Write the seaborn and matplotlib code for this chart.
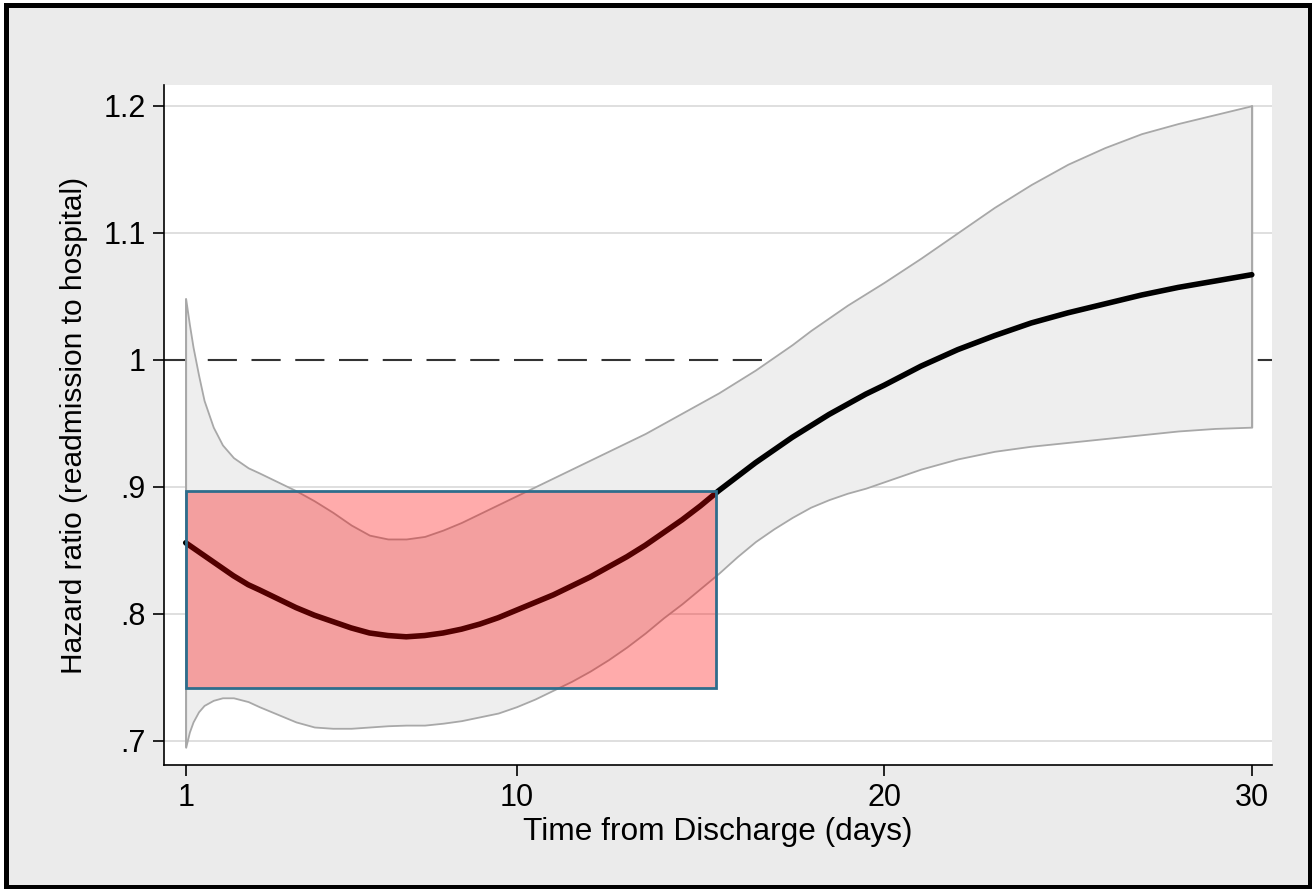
import matplotlib
matplotlib.use("Agg")
import matplotlib.pyplot as plt
from matplotlib.patches import Rectangle
import seaborn as sns
import pandas as pd

# ---- data ----
days = [1, 1.1, 1.2, 1.35, 1.5, 1.75, 2, 2.3, 2.7, 3, 3.5, 4, 4.5, 5, 5.5, 6, 6.5, 7,
        7.5, 8, 8.5, 9, 9.5, 10, 10.5, 11, 11.5, 12, 12.5, 13, 13.5, 14, 14.5, 15,
        15.5, 16, 16.5, 17, 17.5, 18, 18.5, 19, 19.5, 20, 21, 22, 23, 24, 25, 26,
        27, 28, 29, 30]
hazard_ratio = [0.856, 0.854, 0.852, 0.849, 0.846, 0.841, 0.836, 0.830, 0.823, 0.819,
                0.812, 0.805, 0.799, 0.794, 0.789, 0.785, 0.783, 0.782, 0.783, 0.785,
                0.788, 0.792, 0.797, 0.803, 0.809, 0.815, 0.822, 0.829, 0.837, 0.845,
                0.854, 0.864, 0.874, 0.885, 0.897, 0.908, 0.919, 0.929, 0.939, 0.948,
                0.957, 0.965, 0.973, 0.980, 0.995, 1.008, 1.019, 1.029, 1.037, 1.044,
                1.051, 1.057, 1.062, 1.067]
ci_upper = [1.048, 1.028, 1.010, 0.988, 0.968, 0.947, 0.933, 0.923, 0.915, 0.911,
            0.904, 0.897, 0.889, 0.880, 0.870, 0.862, 0.859, 0.859, 0.861, 0.866,
            0.872, 0.879, 0.886, 0.893, 0.900, 0.907, 0.914, 0.921, 0.928, 0.935,
            0.942, 0.950, 0.958, 0.966, 0.974, 0.983, 0.992, 1.002, 1.012, 1.023,
            1.033, 1.043, 1.052, 1.061, 1.080, 1.100, 1.120, 1.138, 1.154, 1.167,
            1.178, 1.186, 1.193, 1.200]
ci_lower = [0.695, 0.707, 0.715, 0.723, 0.728, 0.732, 0.734, 0.734, 0.731, 0.727,
            0.721, 0.715, 0.711, 0.710, 0.710, 0.711, 0.712, 0.7125, 0.7125, 0.714,
            0.716, 0.719, 0.722, 0.727, 0.733, 0.740, 0.747, 0.755, 0.764, 0.774,
            0.785, 0.797, 0.808, 0.820, 0.832, 0.845, 0.857, 0.867, 0.876, 0.884,
            0.890, 0.895, 0.899, 0.904, 0.914, 0.922, 0.928, 0.932, 0.935, 0.938,
            0.941, 0.944, 0.946, 0.947]
highlight_x = [1, 15.43]
highlight_y = [0.742, 0.897]
x_ticks = [1, 10, 20, 30]
y_ticks = [0.7, 0.8, 0.9, 1.0, 1.1, 1.2]
y_tick_labels = [".7", ".8", ".9", "1", "1.1", "1.2"]
reference_value = 1.0

df = pd.DataFrame({"day": days, "hr": hazard_ratio, "lo": ci_lower, "hi": ci_upper})

sns.set_theme(style="white")
plt.rcParams["font.family"] = ["Liberation Sans", "DejaVu Sans"]

W, H = 1312, 889
fig = plt.figure(figsize=(W / 100, H / 100), dpi=100, facecolor="white")

# outer gray panel with thick black border
fig.patches.append(Rectangle((5.5 / W, (H - 887) / H), (1309.5 - 5.5) / W, (887 - 5) / H,
                             transform=fig.transFigure, facecolor="#EBEBEB",
                             edgecolor="black", linewidth=3.6, zorder=-10))

ax = fig.add_axes([164 / W, 1 - 765 / H, (1272 - 164) / W, (765 - 85) / H])
ax.set_zorder(1)
ax.set_facecolor("white")

# grid lines (except at reference value)
for yv in y_ticks:
    if yv != reference_value:
        ax.axhline(yv, color="#DCDCDC", linewidth=1.3, zorder=1)
ax.axhline(reference_value, color="#333333", linewidth=1.5, linestyle=(0, (14, 7)), zorder=2)

# confidence band
ax.fill_between(df["day"], df["lo"], df["hi"], facecolor="#EEEEEE",
                edgecolor="#A8A8A8", linewidth=1.3, zorder=3)
ax.plot([days[0], days[0]], [ci_lower[0], ci_upper[0]], color="#A8A8A8", lw=1.3, zorder=3)
ax.plot([days[-1], days[-1]], [ci_lower[-1], ci_upper[-1]], color="#A8A8A8", lw=1.3, zorder=3)

# main estimate
sns.lineplot(data=df, x="day", y="hr", color="black", linewidth=4.0, ax=ax, zorder=4,
             solid_capstyle="round", solid_joinstyle="round")

# highlight rectangle
ax.add_patch(Rectangle((highlight_x[0], highlight_y[0]), highlight_x[1] - highlight_x[0],
                       highlight_y[1] - highlight_y[0], facecolor=(1, 0, 0, 0.33),
                       edgecolor="#2E6D8C", linewidth=2.0, zorder=5))

ax.set_xlim(0.41, 30.55)
ax.set_ylim(0.6811, 1.2163)
ax.set_xticks(x_ticks)
ax.set_xticklabels([str(t) for t in x_ticks])
ax.set_yticks(y_ticks)
ax.set_yticklabels(y_tick_labels)

for s in ["top", "right"]:
    ax.spines[s].set_visible(False)
for s in ["left", "bottom"]:
    ax.spines[s].set_color("black")
    ax.spines[s].set_linewidth(1.2)

ax.tick_params(axis="both", which="major", direction="out", length=8, width=1.2,
               color="black", labelsize=22, labelcolor="black", pad=5,
               left=True, bottom=True)

ax.set_xlabel("Time from Discharge (days)", fontsize=22.8, color="black", labelpad=3)
ax.set_ylabel("Hazard ratio (readmission to hospital)", fontsize=21.5, color="black",
              labelpad=11)

fig.savefig("out.png", dpi=100, facecolor=fig.get_facecolor())
